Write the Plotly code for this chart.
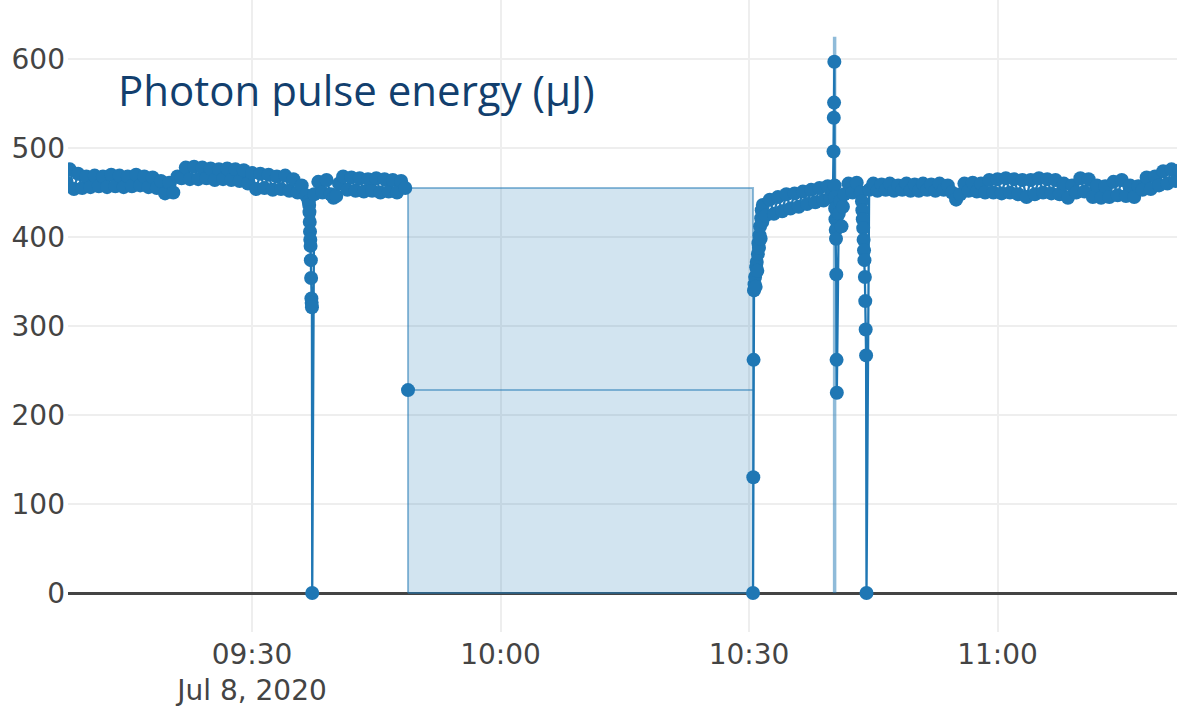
import plotly.graph_objects as go

DAY = "2020-07-08 "

# Pulse energy readings (uJ) before the beam-off period
before_times = [
    "09:07:30", "09:08:00", "09:08:30", "09:09:00", "09:09:30", "09:10:00", "09:10:30",
    "09:11:00", "09:11:30", "09:12:00", "09:12:30", "09:13:00", "09:13:30", "09:14:00",
    "09:14:30", "09:15:00", "09:15:30", "09:16:00", "09:16:30", "09:17:00", "09:17:30",
    "09:18:00", "09:18:30", "09:19:00", "09:19:30", "09:20:00", "09:20:30", "09:21:00",
    "09:21:30", "09:22:00", "09:22:30", "09:23:00", "09:23:30", "09:24:00", "09:24:30",
    "09:25:00", "09:25:30", "09:26:00", "09:26:30", "09:27:00", "09:27:30", "09:28:00",
    "09:28:30", "09:29:00", "09:29:30", "09:30:00", "09:30:30", "09:31:00", "09:31:30",
    "09:32:00", "09:32:30", "09:33:00", "09:33:30", "09:34:00", "09:34:30", "09:35:00",
    "09:35:30", "09:36:00", "09:36:30", "09:36:50", "09:36:54", "09:36:56", "09:36:58",
    "09:37:00", "09:37:02", "09:37:04", "09:37:06", "09:37:08", "09:37:10", "09:37:12",
    "09:37:14", "09:37:16", "09:37:30", "09:38:00", "09:38:30", "09:39:00", "09:39:30",
    "09:39:50", "09:40:10", "09:40:30", "09:41:00", "09:41:30", "09:42:00", "09:42:30",
    "09:43:00", "09:43:30", "09:44:00", "09:44:30", "09:45:00", "09:45:30", "09:46:00",
    "09:46:30", "09:47:00", "09:47:30", "09:48:00", "09:48:30",
]
before_vals = [
    462, 476, 454, 471, 455, 468, 456,
    469, 457, 468, 456, 470, 457, 469,
    456, 468, 457, 470, 458, 468, 456,
    467, 455, 463, 449, 461, 450, 468,
    466, 478, 465, 479, 465, 478, 466,
    477, 464, 476, 465, 477, 464, 476,
    463, 475, 460, 472, 454, 471, 455,
    470, 453, 468, 454, 469, 452, 465,
    450, 458, 447, 440, 436, 428, 417,
    406, 397, 390, 374, 354, 331, 326,
    321, 0, 448, 462, 450, 464, 448,
    444, 446, 460, 468, 453, 467, 452,
    466, 451, 465, 452, 466, 450, 465,
    451, 464, 450, 463, 455,
]

# Average reading logged for the beam-off period
gap_start = "09:48:50"
gap_end = "10:30:29"
gap_mean = 228
gap_level = 455

# Pulse energy readings after the beam-off period
after_times = [
    "10:30:29", "10:30:31", "10:30:33", "10:30:36", "10:30:40", "10:30:44", "10:30:48",
    "10:30:52", "10:30:56", "10:31:00", "10:31:04", "10:31:08", "10:31:12", "10:31:16",
    "10:31:20", "10:31:24", "10:31:28", "10:31:32", "10:31:36", "10:31:40", "10:32:00",
    "10:32:30", "10:33:00", "10:33:30", "10:34:00", "10:34:30", "10:35:00", "10:35:30",
    "10:36:00", "10:36:30", "10:37:00", "10:37:30", "10:38:00", "10:38:30", "10:39:00",
    "10:39:30", "10:39:50", "10:40:08", "10:40:12", "10:40:14", "10:40:16", "10:40:18",
    "10:40:20", "10:40:22", "10:40:24", "10:40:26", "10:40:28", "10:40:30", "10:40:32",
    "10:40:34", "10:40:36", "10:40:50", "10:41:00", "10:41:10", "10:41:20", "10:41:30",
    "10:42:00", "10:42:30", "10:43:00", "10:43:30", "10:43:38", "10:43:41", "10:43:44",
    "10:43:47", "10:43:50", "10:43:53", "10:43:56", "10:43:59", "10:44:02", "10:44:05",
    "10:44:08", "10:44:11", "10:44:30", "10:45:00", "10:45:30", "10:46:00", "10:46:30",
    "10:47:00", "10:47:30", "10:48:00", "10:48:30", "10:49:00", "10:49:30", "10:50:00",
    "10:50:30", "10:51:00", "10:51:30", "10:52:00", "10:52:30", "10:53:00", "10:53:30",
    "10:54:00", "10:54:30", "10:55:00", "10:55:30", "10:56:00", "10:56:30", "10:57:00",
    "10:57:30", "10:58:00", "10:58:30", "10:59:00", "10:59:30", "11:00:00", "11:00:30",
    "11:01:00", "11:01:30", "11:02:00", "11:02:30", "11:03:00", "11:03:30", "11:04:00",
    "11:04:30", "11:05:00", "11:05:30", "11:06:00", "11:06:30", "11:07:00", "11:07:30",
    "11:08:00", "11:08:30", "11:09:00", "11:09:30", "11:10:00", "11:10:30", "11:11:00",
    "11:11:30", "11:12:00", "11:12:30", "11:13:00", "11:13:30", "11:14:00", "11:14:30",
    "11:15:00", "11:15:30", "11:16:00", "11:16:30", "11:17:00", "11:17:30", "11:18:00",
    "11:18:30", "11:19:00", "11:19:30", "11:20:00", "11:20:30", "11:21:00", "11:21:30",
    "11:22:00",
]
after_vals = [
    0, 130, 262, 340, 347, 355, 344,
    366, 372, 362, 381, 393, 388, 402,
    412, 398, 421, 430, 417, 436, 424,
    442, 426, 445, 429, 448, 432, 449,
    434, 451, 437, 453, 439, 455, 441,
    457, 444, 452, 496, 534, 551, 597,
    458, 445, 432, 420, 408, 398, 358,
    262, 225, 426, 440, 412, 434, 448,
    460, 450, 461, 450, 440, 430, 420,
    410, 397, 385, 374, 355, 328, 296,
    267, 0, 453, 460, 452, 459, 453,
    460, 452, 458, 453, 460, 452, 459,
    452, 460, 453, 459, 452, 460, 453,
    458, 450, 442, 448, 460, 452, 461,
    451, 460, 450, 464, 450, 465, 449,
    466, 450, 465, 448, 464, 445, 464,
    448, 466, 450, 465, 449, 464, 448,
    460, 444, 458, 450, 466, 451, 465,
    445, 458, 444, 457, 445, 462, 447,
    464, 446, 458, 445, 457, 453, 467,
    454, 468, 458, 474, 460, 476, 463,
    475,
]

# Injection event marker
event_time = "10:40:20"
event_top = 625

# Axis ticks
y_ticks = [0, 100, 200, 300, 400, 500, 600]
x_range = ["09:07:47", "11:21:40"]


def stamp(times):
    return [DAY + t for t in times]


BLUE = "#1f77b4"
LIGHT = "rgba(31,119,180,0.5)"
SHADE = "rgba(31,119,180,0.2)"

fig = go.Figure()

# Beam-off window, shaded down to zero
fig.add_trace(go.Scatter(
    x=stamp([gap_start, gap_start, gap_end, gap_end, gap_start]),
    y=[0, gap_level, gap_level, 0, 0],
    mode="lines", fill="toself", fillcolor=SHADE,
    line=dict(color=LIGHT, width=2), hoverinfo="skip",
))

# Mean level during the window
fig.add_trace(go.Scatter(
    x=stamp([gap_start, gap_end]), y=[gap_mean, gap_mean],
    mode="lines", line=dict(color=LIGHT, width=2), hoverinfo="skip",
))

# Event line
fig.add_trace(go.Scatter(
    x=stamp([event_time, event_time]), y=[0, event_top],
    mode="lines", line=dict(color=LIGHT, width=3.5), hoverinfo="skip",
))

# Measured pulse energy
main_x = stamp(before_times) + [None] + stamp([gap_start]) + [None] + stamp(after_times)
main_y = before_vals + [None] + [gap_mean] + [None] + after_vals
fig.add_trace(go.Scatter(
    x=main_x, y=main_y, mode="lines+markers",
    line=dict(color=BLUE, width=2.3),
    marker=dict(color=BLUE, size=14),
    connectgaps=False,
))

fig.add_annotation(
    text="Photon pulse energy (\u03bcJ)",
    xref="paper", yref="paper", x=0.043, y=0.858,
    xanchor="left", yanchor="middle", showarrow=False,
    font=dict(family="Open Sans", size=42, color="#123f6e"),
)

TICK_FONT = dict(family="DejaVu Sans", size=28, color="#444")

fig.update_layout(
    width=1177, height=707,
    margin=dict(l=68, r=0, t=0, b=75),
    paper_bgcolor="white", plot_bgcolor="white",
    showlegend=False,
    xaxis=dict(
        type="date", range=stamp(x_range),
        tick0=DAY + "09:00:00", dtick=1800000,
        tickfont=TICK_FONT, ticklabelstandoff=3,
        showgrid=True, gridcolor="#eee", gridwidth=2,
        zeroline=False, showline=False, automargin=False,
    ),
    yaxis=dict(
        range=[-43.8, 666.3], tickvals=y_ticks,
        tickfont=TICK_FONT, ticklabelstandoff=2,
        showgrid=True, gridcolor="#eee", gridwidth=2,
        zeroline=True, zerolinecolor="#444", zerolinewidth=2.5,
        showline=False, automargin=False,
    ),
)

fig.write_html("out.html")
